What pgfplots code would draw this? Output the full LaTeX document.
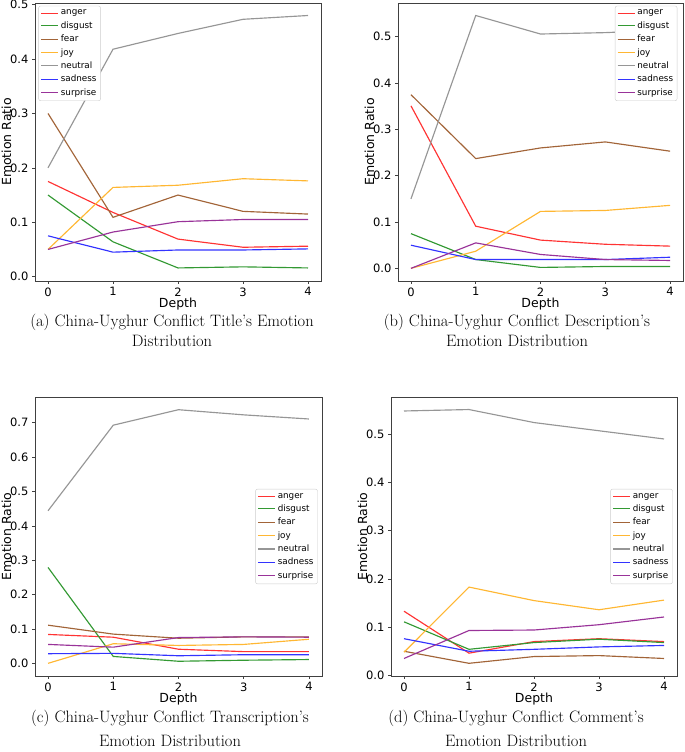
\documentclass[border=0pt]{standalone}
\usepackage{fontspec}
\usepackage{pgfplots}
\pgfplotsset{compat=1.18}
\newfontfamily\dejavu{DejaVu Sans}
\definecolor{cred}{RGB}{255,51,51}
\definecolor{cgreen}{RGB}{51,153,51}
\definecolor{cfear}{RGB}{162,100,56}
\definecolor{cjoy}{RGB}{255,183,51}
\definecolor{cneutral}{RGB}{150,150,150}
\definecolor{cblue}{RGB}{51,51,255}
\definecolor{cpurple}{RGB}{153,51,153}
\pgfplotsset{
  emo/.style={
    scale only axis,
    width=286pt, height=278pt,
    xmin=-0.2, xmax=4.2,
    xtick={0,1,2,3,4},
    axis line style={black!75, line width=0.7pt},
    tick style={black!75, line width=0.6pt},
    tick align=outside, tick pos=left,
    major tick length=3pt,
    /pgf/number format/assume math mode=true,
    yticklabel style={/pgf/number format/.cd, fixed, fixed zerofill, precision=1},
    xticklabel style={/pgf/number format/.cd, fixed, precision=0},
    tick label style={font=\dejavu\fontsize{11.5}{13}\selectfont},
    label style={font=\dejavu\fontsize{12.5}{15}\selectfont},
    xlabel={Depth}, ylabel={Emotion Ratio},
    xlabel style={yshift=5pt},
    ylabel style={yshift=-8pt},
    legend cell align=left,
    legend style={font=\dejavu\fontsize{8.8}{10}\selectfont, draw=black!20, rounded corners=2pt,
      fill=white, inner sep=2pt, row sep=1.2pt},
    every axis plot/.append style={line width=1.15pt},
    cycle list={{cred},{cgreen},{cfear},{cjoy},{cneutral},{cblue},{cpurple}},
  }
}
\begin{document}
\begin{tikzpicture}
\useasboundingbox (0,0) rectangle (685pt,752pt);
% (a)
\begin{axis}[emo, at={(35pt,471pt)}, anchor=south west,
  ymin=-0.008, ymax=0.503, ytick={0,0.1,0.2,0.3,0.4,0.5},
  legend style={at={(axis description cs:0.012,0.99)}, anchor=north west}]
\addplot coordinates {(0,0.175) (1,0.118) (2,0.069) (3,0.054) (4,0.056)};
\addplot coordinates {(0,0.150) (1,0.064) (2,0.016) (3,0.018) (4,0.016)};
\addplot coordinates {(0,0.300) (1,0.109) (2,0.150) (3,0.120) (4,0.115)};
\addplot coordinates {(0,0.050) (1,0.164) (2,0.168) (3,0.180) (4,0.176)};
\addplot coordinates {(0,0.200) (1,0.418) (2,0.447) (3,0.473) (4,0.480)};
\addplot coordinates {(0,0.075) (1,0.045) (2,0.049) (3,0.049) (4,0.051)};
\addplot coordinates {(0,0.050) (1,0.082) (2,0.101) (3,0.105) (4,0.105)};
\legend{anger,disgust,fear,joy,neutral,sadness,surprise}
\end{axis}
% (b)
\begin{axis}[emo, at={(398pt,471pt)}, anchor=south west, width=285pt,
  ymin=-0.0273, ymax=0.573, ytick={0,0.1,0.2,0.3,0.4,0.5},
  legend style={at={(axis description cs:0.98,0.99)}, anchor=north east}]
\addplot coordinates {(0,0.351) (1,0.091) (2,0.061) (3,0.052) (4,0.048)};
\addplot coordinates {(0,0.075) (1,0.019) (2,0.002) (3,0.004) (4,0.004)};
\addplot coordinates {(0,0.375) (1,0.237) (2,0.260) (3,0.273) (4,0.253)};
\addplot coordinates {(0,0.000) (1,0.037) (2,0.123) (3,0.125) (4,0.136)};
\addplot coordinates {(0,0.150) (1,0.546) (2,0.506) (3,0.509) (4,0.515)};
\addplot coordinates {(0,0.050) (1,0.019) (2,0.019) (3,0.019) (4,0.024)};
\addplot coordinates {(0,0.000) (1,0.055) (2,0.030) (3,0.019) (4,0.017)};
\legend{anger,disgust,fear,joy,neutral,sadness,surprise}
\end{axis}
% (c)
\begin{axis}[emo, at={(35pt,76pt)}, anchor=south west, width=287pt, height=279pt,
  ymin=-0.0369, ymax=0.775, ytick={0,0.1,0.2,0.3,0.4,0.5,0.6,0.7},
  legend style={at={(axis description cs:0.985,0.5)}, anchor=east}]
\addplot coordinates {(0,0.084) (1,0.076) (2,0.041) (3,0.034) (4,0.034)};
\addplot coordinates {(0,0.279) (1,0.020) (2,0.006) (3,0.009) (4,0.011)};
\addplot coordinates {(0,0.111) (1,0.085) (2,0.073) (3,0.077) (4,0.077)};
\addplot coordinates {(0,0.000) (1,0.057) (2,0.052) (3,0.055) (4,0.070)};
\addplot coordinates {(0,0.444) (1,0.693) (2,0.738) (3,0.723) (4,0.711)};
\addplot coordinates {(0,0.028) (1,0.029) (2,0.022) (3,0.025) (4,0.025)};
\addplot coordinates {(0,0.055) (1,0.047) (2,0.075) (3,0.077) (4,0.076)};
\legend{anger,disgust,fear,joy,neutral,sadness,surprise}
\end{axis}
% (d)
\begin{axis}[emo, at={(391pt,76pt)}, anchor=south west, width=286pt, height=279pt,
  ymin=-0.0013, ymax=0.577, ytick={0,0.1,0.2,0.3,0.4,0.5},
  legend style={at={(axis description cs:0.985,0.5)}, anchor=east}]
\addplot coordinates {(0,0.133) (1,0.046) (2,0.070) (3,0.076) (4,0.070)};
\addplot coordinates {(0,0.111) (1,0.054) (2,0.068) (3,0.075) (4,0.068)};
\addplot coordinates {(0,0.050) (1,0.025) (2,0.039) (3,0.041) (4,0.035)};
\addplot coordinates {(0,0.048) (1,0.183) (2,0.155) (3,0.136) (4,0.156)};
\addplot coordinates {(0,0.548) (1,0.551) (2,0.524) (3,0.507) (4,0.490)};
\addplot coordinates {(0,0.076) (1,0.050) (2,0.054) (3,0.059) (4,0.062)};
\addplot coordinates {(0,0.035) (1,0.093) (2,0.094) (3,0.105) (4,0.121)};
\legend{anger,disgust,fear,joy,neutral,sadness,surprise}
\end{axis}
% captions
\node[align=center, font=\fontsize{16.5}{20}\selectfont] at (172pt,422pt)
  {(a) China-Uyghur Conflict Title's Emotion\\Distribution};
\node[align=center, font=\fontsize{16.5}{20}\selectfont] at (517pt,422pt)
  {(b) China-Uyghur Conflict Description's\\Emotion Distribution};
\node[align=center, font=\fontsize{16.5}{24}\selectfont] at (170pt,24pt)
  {(c) China-Uyghur Conflict Transcription's\\Emotion Distribution};
\node[align=center, font=\fontsize{16.5}{24}\selectfont] at (516pt,24pt)
  {(d) China-Uyghur Conflict Comment's\\Emotion Distribution};
\end{tikzpicture}
\end{document}
